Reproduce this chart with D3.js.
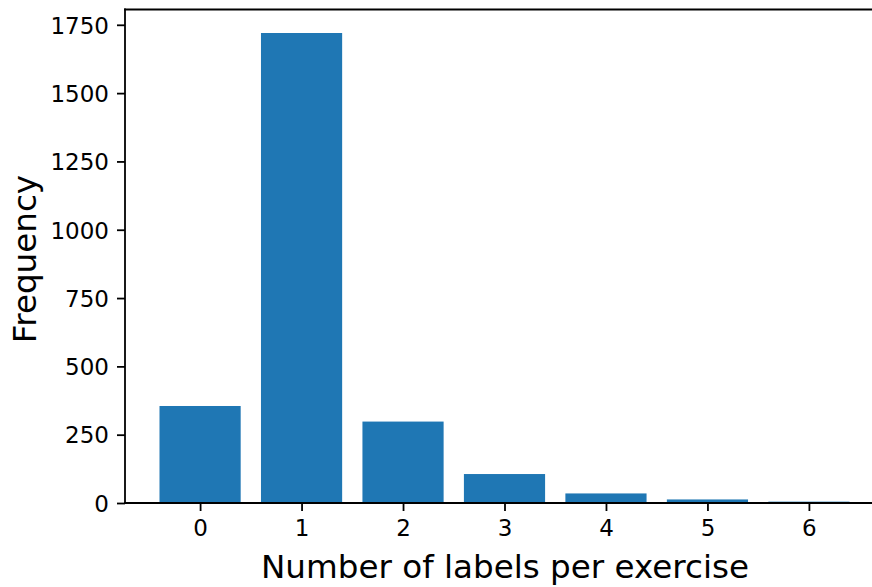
<!DOCTYPE html>
<html>
<head>
<meta charset="utf-8">
<script src="https://cdn.jsdelivr.net/npm/d3@7"></script>
<style>
  html, body { margin: 0; padding: 0; background: #fff; }
  svg { display: block; }
  text { font-family: "DejaVu Sans", sans-serif; fill: #000; }
</style>
</head>
<body>
<svg id="chart" width="872" height="587"></svg>
<script>
// Number of labels attached to each exercise, and how many exercises have that count
const labelCounts = [0, 1, 2, 3, 4, 5, 6];
const frequencies = [355, 1720, 298, 106, 35, 13, 5];
const yTicks = [0, 250, 500, 750, 1000, 1250, 1500, 1750];
const xTitle = "Number of labels per exercise";
const yTitle = "Frequency";

const svg = d3.select("#chart");
const plotLeft = 125, plotRight = 884, plotTop = 9.5, plotBottom = 503;
const barWidth = 0.8;
const color = "#1f77b4";
const tickLen = 8, tickPad = 8, lw = 1.8;

// Bar extents plus a 5% margin on both sides
const lo = d3.min(labelCounts) - barWidth / 2;
const hi = d3.max(labelCounts) + barWidth / 2;
const pad = (hi - lo) * 0.05;
const x = d3.scaleLinear().domain([lo - pad, hi + pad]).range([plotLeft, plotRight]);
const y = d3.scaleLinear().domain([0, d3.max(frequencies) * 1.05]).range([plotBottom, plotTop]);

const data = labelCounts.map((k, i) => ({ k, v: frequencies[i] }));

// Bars
svg.append("g").selectAll("rect").data(data).join("rect")
  .attr("x", d => x(d.k - barWidth / 2))
  .attr("width", d => x(d.k + barWidth / 2) - x(d.k - barWidth / 2))
  .attr("y", d => y(d.v))
  .attr("height", d => y(0) - y(d.v))
  .attr("fill", color);

// Axes
const xAxis = d3.axisBottom(x).tickValues(labelCounts).tickFormat(d3.format("d"))
  .tickSize(tickLen).tickPadding(tickPad).tickSizeOuter(0);
const yAxis = d3.axisLeft(y).tickValues(yTicks).tickFormat(d3.format("d"))
  .tickSize(tickLen).tickPadding(tickPad).tickSizeOuter(0);

const gx = svg.append("g").attr("transform", `translate(0,${plotBottom})`).call(xAxis);
const gy = svg.append("g").attr("transform", `translate(${plotLeft},0)`).call(yAxis);

[gx, gy].forEach(g => {
  g.select(".domain").remove();
  g.selectAll(".tick line").attr("stroke", "#000").attr("stroke-width", lw);
  g.selectAll(".tick text").attr("font-size", "23px").attr("fill", "#000")
    .style("font-family", "'DejaVu Sans', sans-serif");
});
gx.selectAll(".tick text").attr("dy", "0.76em");
gy.selectAll(".tick text").attr("dy", "0.36em");

// Spines (right spine falls just outside the visible canvas)
const spine = svg.append("g").attr("fill", "none").attr("stroke", "#000")
  .attr("stroke-width", lw).attr("stroke-linecap", "square");
spine.append("line").attr("x1", plotLeft).attr("x2", plotRight).attr("y1", plotBottom).attr("y2", plotBottom);
spine.append("line").attr("x1", plotLeft).attr("x2", plotRight).attr("y1", plotTop).attr("y2", plotTop);
spine.append("line").attr("x1", plotLeft).attr("x2", plotLeft).attr("y1", plotTop).attr("y2", plotBottom);
spine.append("line").attr("x1", plotRight).attr("x2", plotRight).attr("y1", plotTop).attr("y2", plotBottom);

// Axis titles
svg.append("text")
  .attr("x", 505)
  .attr("y", 578)
  .attr("text-anchor", "middle")
  .attr("font-size", "32.6px")
  .text(xTitle);

svg.append("text")
  .attr("transform", `translate(36,259) rotate(-90)`)
  .attr("text-anchor", "middle")
  .attr("font-size", "32.6px")
  .text(yTitle);
</script>
</body>
</html>
